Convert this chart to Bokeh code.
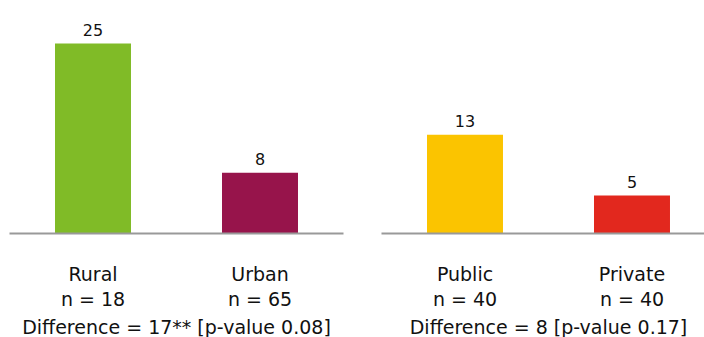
from bokeh.plotting import figure
from bokeh.models import ColumnDataSource, Range1d
from bokeh.core.properties import value
from bokeh.embed import file_html
from bokeh.resources import INLINE
import numpy as np

# ---- data ----
categories = ["Rural", "Urban", "Public", "Private"]
group_index = [0, 0, 1, 1]
values = [25, 8, 13, 5]
sample_sizes = [18, 65, 40, 40]
difference_labels = ["Difference = 17** [p-value 0.08]", "Difference = 8 [p-value 0.17]"]

# ---- style ----
bar_colors = ["#80bb27", "#97144b", "#fbc400", "#e2281e"]
group_gap = 0.2275
bar_width = 0.455
FONT = "DejaVu Sans"
TXT = "#111111"

slots = np.arange(len(categories))
grp = np.array(group_index)
xs = slots + 0.5 + grp * group_gap

src = ColumnDataSource(dict(
    x=xs,
    top=values,
    color=bar_colors,
    cat=categories,
    n=[f"n = {n}" for n in sample_sizes],
    val=[str(v) for v in values],
    zero=[0] * len(values),
))

groups = sorted(set(group_index))
g_start = [min(slots[grp == g]) + g * group_gap for g in groups]
g_end = [max(slots[grp == g]) + 1 + g * group_gap for g in groups]
g_mid = [(a + b) / 2 for a, b in zip(g_start, g_end)]

p = figure(width=704, height=337, output_backend="svg", toolbar_location=None,
           x_range=Range1d(-9 / 167, 695 / 167), y_range=Range1d(-104 / 7.6, 233 / 7.6),
           min_border=0, min_border_left=0, min_border_right=0,
           min_border_top=0, min_border_bottom=0)
p.axis.visible = False
p.grid.visible = False
p.outline_line_color = None
p.background_fill_color = "white"
p.border_fill_color = "white"

p.vbar(x="x", top="top", bottom=0, width=bar_width, color="color", line_color=None, source=src)

p.segment(x0=g_start, y0=[0, 0], x1=g_end, y1=[0, 0], line_color="#999999", line_width=2)

p.text(x="x", y="top", text="val", source=src, text_font=value(FONT), text_font_size="16px",
       text_align="center", text_baseline="alphabetic", y_offset=-14, text_color=TXT)
p.text(x="x", y="zero", text="cat", source=src, text_font=value(FONT), text_font_size="19px",
       text_align="center", text_baseline="alphabetic", y_offset=40, text_color=TXT)
p.text(x="x", y="zero", text="n", source=src, text_font=value(FONT), text_font_size="19px",
       text_align="center", text_baseline="alphabetic", y_offset=65, text_color=TXT)
p.text(x=g_mid, y=[0, 0], text=difference_labels, text_font=value(FONT), text_font_size="19px",
       text_align="center", text_baseline="alphabetic", y_offset=93, text_color=TXT)

open("out.html", "w").write(file_html(p, INLINE))
